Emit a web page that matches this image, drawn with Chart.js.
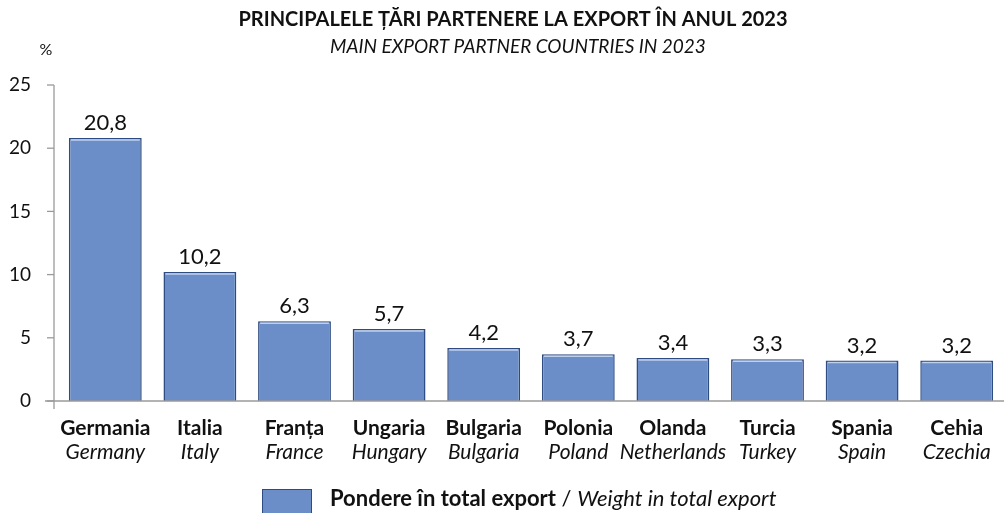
<!DOCTYPE html>
<html><head><meta charset="utf-8">
<script src="https://cdn.jsdelivr.net/npm/chart.js@4/dist/chart.umd.min.js"></script>
<style>html,body{margin:0;padding:0;background:#fff}#wrap{width:1004px;height:513px}</style>
</head><body><div id="wrap"><canvas id="c" width="1004" height="513"></canvas></div>
<script>
const categoriesRo = ["Germania","Italia","Franța","Ungaria","Bulgaria","Polonia","Olanda","Turcia","Spania","Cehia"];
const categoriesEn = ["Germany","Italy","France","Hungary","Bulgaria","Poland","Netherlands","Turkey","Spain","Czechia"];
const shareValues = [20.8,10.2,6.3,5.7,4.2,3.7,3.4,3.3,3.2,3.2];
const yTicks = [0,5,10,15,20,25];
const titleRo = "PRINCIPALELE ȚĂRI PARTENERE LA EXPORT ÎN ANUL 2023";
const titleEn = "MAIN EXPORT PARTNER COUNTRIES IN 2023";
const legendRo = "Pondere în total export";
const legendEn = "Weight in total export";
const unitLabel = "%";

const FONT = "Lato, 'Open Sans', sans-serif";
const fmt = v => v.toFixed(1).replace('.', ',');

const custom = {
  id: 'custom',
  afterDraw(chart) {
    const ctx = chart.ctx;
    const x = chart.scales.x, y = chart.scales.y;
    const ca = chart.chartArea;
    ctx.save();
    // titles
    ctx.fillStyle = '#111';
    ctx.textAlign = 'center';
    ctx.textBaseline = 'middle';
    ctx.font = "bold 20px " + FONT;
    ctx.fillText(titleRo, 513, 20);
    ctx.font = "italic 19px " + FONT;
    ctx.fillText(titleEn, 518, 47);
    ctx.font = "16px " + FONT;
    ctx.fillText(unitLabel, 46, 50);
    // axes
    const ax = 54;
    ctx.strokeStyle = '#9a9a9a';
    ctx.lineWidth = 1.3;
    ctx.beginPath();
    ctx.moveTo(ax, y.getPixelForValue(yTicks[yTicks.length-1]));
    ctx.lineTo(ax, y.getPixelForValue(0) + 8);
    ctx.stroke();
    ctx.beginPath();
    ctx.moveTo(45, y.getPixelForValue(0));
    ctx.lineTo(chart.width, y.getPixelForValue(0));
    ctx.stroke();
    ctx.font = "19px " + FONT;
    ctx.textAlign = 'right';
    yTicks.forEach(t => {
      const py = y.getPixelForValue(t);
      ctx.beginPath(); ctx.moveTo(ax - 7, py); ctx.lineTo(ax, py); ctx.stroke();
      ctx.fillText(String(t), 31, py);
    });
    // bar top highlight
    const meta = chart.getDatasetMeta(0);
    meta.data.forEach(bar => {
      const w = bar.width;
      ctx.strokeStyle = 'rgba(200,215,240,0.9)';
      ctx.lineWidth = 1.5;
      ctx.beginPath();
      ctx.moveTo(bar.x - w/2 + 2, bar.y + 2);
      ctx.lineTo(bar.x + w/2 - 2, bar.y + 2);
      ctx.stroke();
    });
    // data labels
    ctx.textAlign = 'center';
    ctx.font = "22px " + FONT;
    ctx.fillStyle = '#111';
    meta.data.forEach((bar, i) => {
      ctx.fillText(fmt(shareValues[i]), bar.x, bar.y - 15);
    });
    // category labels
    categoriesRo.forEach((c, i) => {
      const px = x.getPixelForValue(i);
      ctx.font = "bold 21px " + FONT;
      ctx.fillText(c, px, 428);
      ctx.font = "italic 21px " + FONT;
      ctx.fillText(categoriesEn[i], px, 452);
    });
    // legend
    const ds = chart.data.datasets[0];
    ctx.fillStyle = ds.backgroundColor;
    ctx.fillRect(262, 489, 50, 26);
    ctx.strokeStyle = ds.borderColor; ctx.lineWidth = 1;
    ctx.strokeRect(262.5, 489.5, 49, 26);
    ctx.textAlign = 'left';
    ctx.fillStyle = '#111';
    ctx.font = "bold 22px " + FONT;
    let tx = 330;
    ctx.fillText(legendRo, tx, 499);
    tx += ctx.measureText(legendRo).width;
    ctx.font = "22px " + FONT;
    ctx.fillText(" / ", tx, 499);
    tx += ctx.measureText(" / ").width;
    ctx.font = "italic 22px " + FONT;
    ctx.fillText(legendEn, tx, 499);
    ctx.restore();
  }
};

new Chart(document.getElementById('c'), {
  type: 'bar',
  data: {
    labels: categoriesRo,
    datasets: [{
      label: legendRo,
      data: shareValues,
      backgroundColor: '#6b8dc8',
      borderColor: '#2f4c82',
      borderWidth: 1.5,
      barPercentage: 0.77,
      categoryPercentage: 1
    }]
  },
  options: {
    responsive: false,
    animation: false,
    layout: { padding: { top: 85, left: 0, right: -4, bottom: 0 } },
    plugins: { legend: { display: false }, tooltip: { enabled: false }, title: { display: false } },
    scales: {
      x: {
        grid: { display: false }, border: { display: false },
        ticks: { display: false },
        afterFit(s) { s.height = 112; }
      },
      y: {
        min: 0, max: 25,
        grid: { display: false }, border: { display: false },
        ticks: { display: false, stepSize: 5 },
        afterFit(s) { s.width = 58; }
      }
    }
  },
  plugins: [custom]
});
</script></body></html>
